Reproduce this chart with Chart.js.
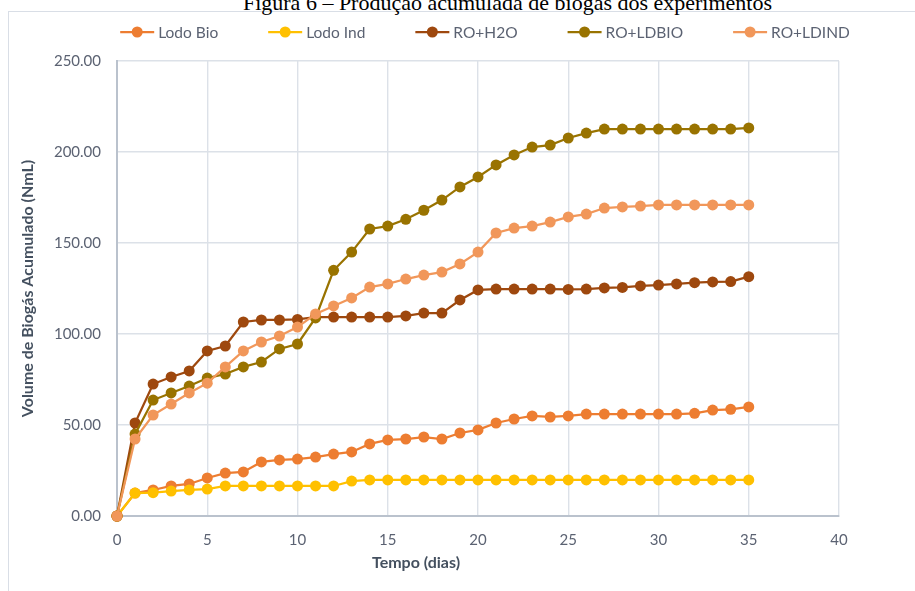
<!DOCTYPE html>
<html>
<head>
<meta charset="utf-8">
<script src="https://cdn.jsdelivr.net/npm/chart.js@4.4.1/dist/chart.umd.min.js"></script>
<style>
  html, body { margin: 0; padding: 0; background: #ffffff; }
  #wrap { position: relative; width: 915px; height: 591px; overflow: hidden; }
  #caption {
    position: absolute; left: 50px; top: -10px; width: 915px; text-align: center;
    font: 22px "Liberation Serif", "Times New Roman", serif; line-height: 25px; color: #000;
    white-space: nowrap;
  }
  #frame {
    position: absolute; left: 8px; top: 11px; width: 1000px; height: 700px;
    border: 1.5px solid #D9DEE6; box-sizing: border-box;
  }
  #chart { position: absolute; left: 0; top: 0; }
</style>
</head>
<body>
<div id="wrap">
  <div id="frame"></div>
  <div id="caption">Figura 6 – Produção acumulada de biogás dos experimentos</div>
  <canvas id="chart" width="915" height="591"></canvas>
</div>
<script>
// Accumulated biogas volume (NmL) per day of experiment
const days = [0, 1, 2, 3, 4, 5, 6, 7, 8, 9, 10, 11, 12, 13, 14, 15, 16, 17, 18, 19, 20,
              21, 22, 23, 24, 25, 26, 27, 28, 29, 30, 31, 32, 33, 34, 35];

const lodoBio = [0, 12.6, 14.3, 16.5, 17.6, 20.9, 23.6, 24.2, 29.7, 30.8, 31.3, 32.4, 34.0, 35.2,
                 39.6, 41.8, 42.3, 43.4, 42.3, 45.6, 47.3, 51.1, 53.3, 55.0, 54.4, 55.0, 56.0,
                 56.0, 56.0, 56.0, 56.0, 56.0, 56.4, 58.2, 58.6, 59.9];

const lodoInd = [0, 12.6, 12.8, 13.7, 14.3, 14.8, 16.5, 16.5, 16.5, 16.5, 16.5, 16.5, 16.5, 19.2,
                 19.8, 19.8, 19.8, 19.8, 19.8, 19.8, 19.8, 19.8, 19.8, 19.8, 19.8, 19.8, 19.8,
                 19.8, 19.8, 19.8, 19.8, 19.8, 19.8, 19.8, 19.8, 19.8];

const roH2O = [0, 51.1, 72.5, 76.4, 79.7, 90.7, 93.4, 106.6, 107.7, 107.7, 108.0, 109.3, 109.3,
               109.3, 109.3, 109.3, 109.9, 111.5, 111.5, 118.7, 124.2, 124.7, 124.7, 124.7, 124.7,
               124.5, 124.7, 125.3, 125.6, 126.4, 126.9, 127.5, 128.2, 128.6, 128.8, 131.5];

const roLdBio = [0, 45.0, 63.7, 67.6, 71.4, 75.8, 78.0, 81.9, 84.6, 91.8, 94.5, 108.8, 135.0, 145.0,
                 157.7, 159.3, 163.0, 168.0, 173.6, 180.8, 186.3, 192.9, 198.4, 202.7, 203.8, 207.7,
                 210.4, 212.6, 212.6, 212.6, 212.6, 212.6, 212.6, 212.6, 212.6, 213.2];

const roLdInd = [0, 42.3, 55.5, 61.5, 67.6, 73.0, 81.9, 90.7, 95.6, 98.9, 103.8, 111.0, 115.4, 119.8,
                 125.8, 127.5, 130.2, 132.4, 134.0, 138.5, 145.0, 155.5, 158.2, 159.3, 161.5, 164.3,
                 165.9, 169.2, 169.8, 170.3, 170.9, 170.9, 170.9, 170.9, 170.9, 170.9];

const seriesNames = ['Lodo Bio', 'Lodo Ind', 'RO+H2O', 'RO+LDBIO', 'RO+LDIND'];
const seriesValues = [lodoBio, lodoInd, roH2O, roLdBio, roLdInd];
const seriesColors = ['#ED7D31', '#FFC000', '#9E480E', '#997300', '#F1975A'];

const xTicks = { min: 0, max: 40, step: 5 };
const yTicks = { min: 0, max: 250, step: 50 };

const xTitle = 'Tempo (dias)';
const yTitle = 'Volume de Biogás Acumulado (NmL)';

const TICK_COLOR = '#5B6272';
const TITLE_COLOR = '#44505F';
const FONT = 'Lato, "Open Sans", sans-serif';

const datasets = seriesNames.map((name, i) => ({
  label: name,
  data: days.map((d, k) => ({ x: d, y: seriesValues[i][k] })),
  borderColor: seriesColors[i],
  backgroundColor: seriesColors[i],
  pointBackgroundColor: seriesColors[i],
  pointBorderColor: seriesColors[i],
  pointBorderWidth: 0,
  pointRadius: 5.5,
  pointHoverRadius: 5.5,
  borderWidth: 2.25,
  tension: 0,
  fill: false,
  clip: false,
  // later series are painted over earlier ones
  order: seriesNames.length - i
}));

// Legend row: short line with a dot, then the series name
const lineLegend = {
  id: 'lineLegend',
  afterDraw(chart) {
    const ctx = chart.ctx;
    const markW = 34, markGap = 4, itemGap = 50, cy = 32, centerX = 485;
    ctx.save();
    ctx.font = '15.5px ' + FONT;
    const items = chart.data.datasets.map(ds => ({ ds, w: ctx.measureText(ds.label).width }));
    const total = items.reduce((s, it) => s + markW + markGap + it.w, 0) + itemGap * (items.length - 1);
    let x = centerX - total / 2;
    items.forEach(({ ds, w }) => {
      ctx.strokeStyle = ds.borderColor;
      ctx.lineWidth = 2.25;
      ctx.beginPath();
      ctx.moveTo(x, cy);
      ctx.lineTo(x + markW, cy);
      ctx.stroke();
      ctx.fillStyle = ds.borderColor;
      ctx.beginPath();
      ctx.arc(x + markW / 2, cy, 5.5, 0, Math.PI * 2);
      ctx.fill();
      ctx.fillStyle = TICK_COLOR;
      ctx.textAlign = 'left';
      ctx.textBaseline = 'middle';
      ctx.fillText(ds.label, x + markW + markGap, cy + 1);
      x += markW + markGap + w + itemGap;
    });
    ctx.restore();
  }
};

// Axis titles
const axisTitles = {
  id: 'axisTitles',
  afterDraw(chart) {
    const ctx = chart.ctx;
    const area = chart.chartArea;
    ctx.save();
    ctx.font = 'bold 16px ' + FONT;
    ctx.fillStyle = TITLE_COLOR;
    ctx.textAlign = 'center';
    ctx.textBaseline = 'middle';
    ctx.fillText(xTitle, area.left + 299, 563);
    ctx.translate(28, (area.top + area.bottom) / 2);
    ctx.rotate(-Math.PI / 2);
    ctx.fillText(yTitle, 0, 0);
    ctx.restore();
  }
};

function build() {
  new Chart(document.getElementById('chart'), {
    type: 'line',
    data: { datasets },
    plugins: [lineLegend, axisTitles],
    options: {
      responsive: false,
      animation: false,
      events: [],
      layout: { padding: { left: 10, right: 76, top: 61, bottom: 0 } },
      plugins: {
        legend: { display: false },
        tooltip: { enabled: false },
        title: { display: false }
      },
      scales: {
        x: {
          type: 'linear',
          min: xTicks.min,
          max: xTicks.max,
          afterFit(scale) { scale.height = 75; },
          ticks: {
            stepSize: xTicks.step,
            color: TICK_COLOR,
            padding: 15,
            font: { family: FONT, size: 15 }
          },
          grid: { color: '#DCE1E8', lineWidth: 1.4, drawTicks: false },
          border: { color: '#BAC2CD', width: 2 }
        },
        y: {
          type: 'linear',
          min: yTicks.min,
          max: yTicks.max,
          afterFit(scale) { scale.width = 107; },
          ticks: {
            stepSize: yTicks.step,
            color: TICK_COLOR,
            padding: 16,
            font: { family: FONT, size: 15 },
            callback: v => Number(v).toFixed(2)
          },
          grid: { color: '#DCE1E8', lineWidth: 1.4, drawTicks: false },
          border: { color: '#BAC2CD', width: 2 }
        }
      }
    }
  });
}

Promise.all([
  document.fonts.load('15px Lato'),
  document.fonts.load('bold 16px Lato'),
  document.fonts.load('22px "Liberation Serif"')
]).then(build, build);
</script>
</body>
</html>
